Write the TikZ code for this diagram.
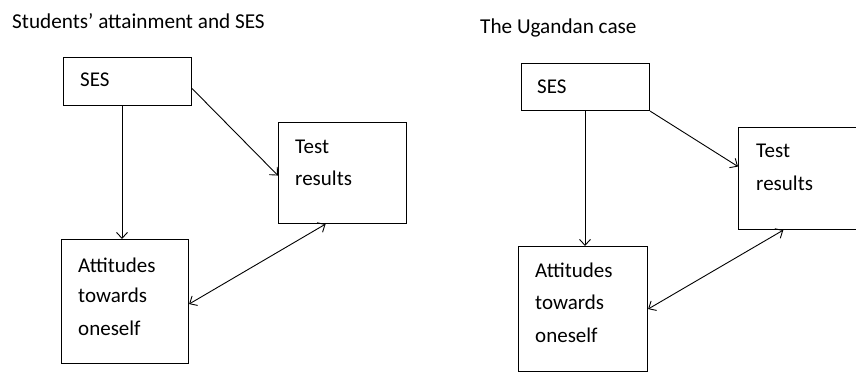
\documentclass[tikz,border=0pt]{standalone}
\usepackage{fontspec}
\setmainfont{Carlito}
\usetikzlibrary{arrows.meta}
\begin{document}
\begin{tikzpicture}[x=1pt,y=-1pt,
  box/.style={draw,line width=1.1pt,inner sep=0pt,anchor=north west},
  lbl/.style={inner sep=0pt,anchor=base west,font=\fontsize{21}{24}\selectfont},
  ttl/.style={inner sep=0pt,anchor=base west,font=\fontsize{21.2}{24}\selectfont},
  arr/.style={line width=0.9pt,-{Straight Barb[length=6pt,width=11pt]}},
  darr/.style={line width=0.9pt,{Straight Barb[length=6pt,width=11pt]}-{Straight Barb[length=6pt,width=11pt]}}]
\useasboundingbox (0,0) rectangle (856,372);
% left panel
\node[ttl] (t1) at (12,28) {Students’ attainment and SES};
\node[box,minimum width=128pt,minimum height=48pt] (ses1) at (63,57) {};
\node[box,minimum width=128pt,minimum height=101pt] (test1) at (278,122) {};
\node[box,minimum width=127pt,minimum height=124pt] (att1) at (61,239) {};
\node[lbl] (ses1t) at (80,86) {SES};
\node[lbl] (test1a) at (295,153) {Test};
\node[lbl] (test1b) at (295,185) {results};
\node[lbl] (att1a) at (78,272) {Attitudes};
\node[lbl] (att1b) at (78,302) {towards};
\node[lbl] (att1c) at (78,335) {oneself};
\draw[arr] ([xshift=59pt]ses1.south west) -- ([xshift=59pt]ses1.south west |- att1.north);
\draw[arr] ([yshift=-7pt]ses1.east) -- ([yshift=-2.5pt]test1.west);
\draw[darr] ([xshift=-17pt]test1.south) -- ([yshift=-2.5pt]att1.east);
% right panel
\node[ttl] (t2) at (480,33) {The Ugandan case};
\node[box,minimum width=128pt,minimum height=47pt] (ses2) at (521,63) {};
\node[box,minimum width=117.5pt,minimum height=102pt] (test2) at (738,127) {};
\node[box,minimum width=129pt,minimum height=125pt] (att2) at (518,246) {};
\node[lbl] (ses2t) at (537,93) {SES};
\node[lbl] (test2a) at (756,157) {Test};
\node[lbl] (test2b) at (756,190) {results};
\node[lbl] (att2a) at (535,277) {Attitudes};
\node[lbl] (att2b) at (535,309) {towards};
\node[lbl] (att2c) at (535,342) {oneself};
\draw[arr] ([xshift=64pt]ses2.south west) -- ([xshift=64pt]ses2.south west |- att2.north);
\draw[arr] (ses2.south east) -- ([yshift=12pt]test2.west);
\draw[darr] ([xshift=-14pt]test2.south) -- (att2.east);
\end{tikzpicture}
\end{document}
